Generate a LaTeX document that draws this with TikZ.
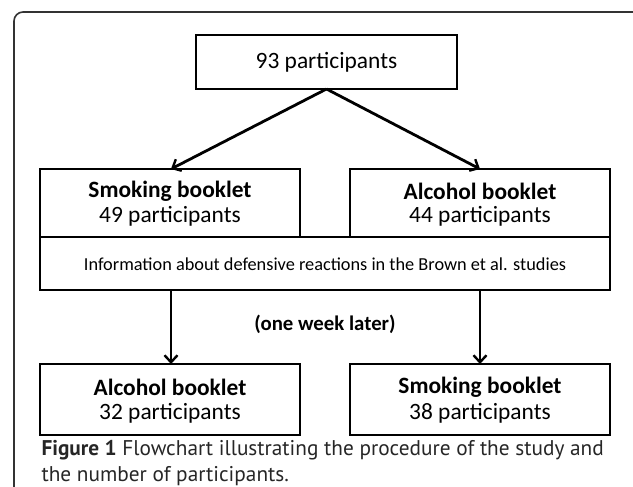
\documentclass[tikz,border=0pt]{standalone}
\usepackage{fontspec}
\setmainfont{Carlito}
\newfontfamily\capfont{PT Sans}
\usetikzlibrary{arrows.meta}
\begin{document}
\begin{tikzpicture}[x=1pt,y=-1pt,
  box/.style={draw=black,line width=2.2pt,minimum width=0pt,inner sep=0pt},
  arr/.style={line width=2.8pt,-{Straight Barb[length=7pt,width=13pt,line width=2.4pt]}},
  ttl/.style={font=\fontsize{23.4}{28}\selectfont\bfseries},
  num/.style={font=\fontsize{23.4}{28}\selectfont}]
\useasboundingbox (0,0) rectangle (633,487);
\draw[line width=1.6pt,draw=black!80,rounded corners=9pt] (14,520) -- (14,12) -- (642,12) -- (642,520);
% boxes
\draw[box] (196,35) rectangle (457,89);
\node[num] (top) at (326.5,62) {93 participants};
\coordinate (topb) at (326.5,89);
\draw[box] (40,169) rectangle (300,237);
\draw[box] (350,169) rectangle (610,237);
\draw[box] (40,237) rectangle (610,290);
\node[ttl] (s1) at (170,191) {Smoking booklet};
\node[num] (s1n) at (170,216) {49 participants};
\node[ttl] (a1) at (480,191) {Alcohol booklet};
\node[num] (a1n) at (480,216) {44 participants};
\node[font=\fontsize{18.3}{21}\selectfont] (info) at (325,264) {Information about defensive reactions in the Brown et al. studies};
\coordinate (sTop) at (171,169);
\coordinate (aTop) at (480,169);
\coordinate (iL) at (171,290);
\coordinate (iR) at (480,290);
\node[font=\fontsize{20.8}{24}\selectfont\bfseries] (wk) at (325,324) {(one week later)};
\draw[box] (40,364) rectangle (300,435);
\draw[box] (350,364) rectangle (610,435);
\coordinate (bL) at (171,364);
\coordinate (bR) at (480,364);
\node[ttl] (a2) at (170,387) {Alcohol booklet};
\node[num] (a2n) at (170,413) {32 participants};
\node[ttl] (s2) at (480,387) {Smoking booklet};
\node[num] (s2n) at (480,413) {38 participants};
% arrows
\draw[arr] (topb) -- (sTop);
\draw[arr] (topb) -- (aTop);
\draw[arr] (iL) -- (bL);
\draw[arr] (iR) -- (bR);
% caption
\node[anchor=west,font=\capfont\fontsize{21.3}{27}\selectfont,text=black!85] (cap1) at (38,450) {\textbf{Figure 1} Flowchart illustrating the procedure of the study and};
\node[anchor=west,font=\capfont\fontsize{21.3}{27}\selectfont,text=black!85] (cap2) at (38,476) {the number of participants.};
\end{tikzpicture}
\end{document}
